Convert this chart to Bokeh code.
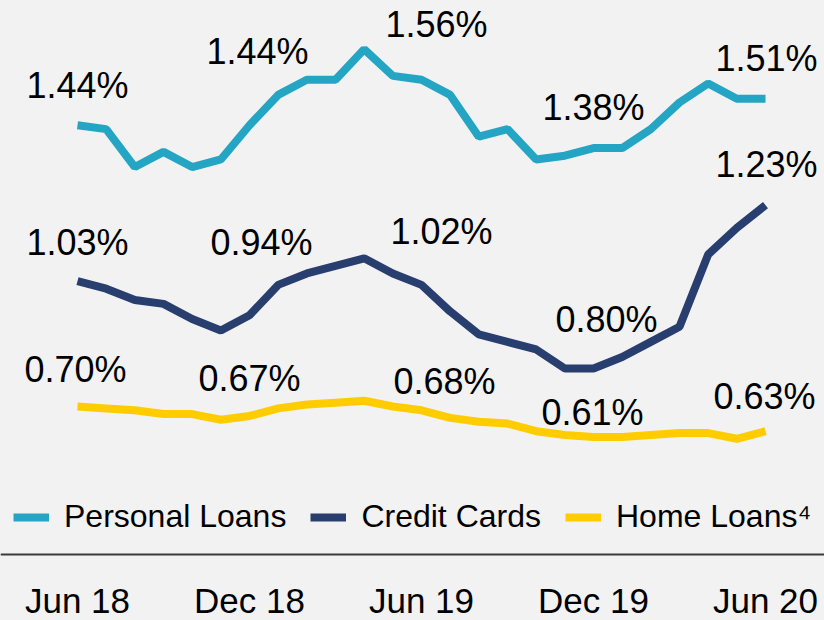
from bokeh.plotting import figure
from bokeh.models import Range1d, Legend, LegendItem, Span
from bokeh.core.properties import value
from bokeh.embed import file_html
from bokeh.resources import INLINE

# ---------------- data ----------------
months = ["Jun 18", "Jul 18", "Aug 18", "Sep 18", "Oct 18", "Nov 18", "Dec 18",
          "Jan 19", "Feb 19", "Mar 19", "Apr 19", "May 19", "Jun 19",
          "Jul 19", "Aug 19", "Sep 19", "Oct 19", "Nov 19", "Dec 19",
          "Jan 20", "Feb 20", "Mar 20", "Apr 20", "May 20", "Jun 20"]

personal_loans = [1.44, 1.43, 1.33, 1.37, 1.33, 1.35, 1.44, 1.52, 1.56, 1.56, 1.64, 1.57, 1.56,
                  1.52, 1.41, 1.43, 1.35, 1.36, 1.38, 1.38, 1.43, 1.50, 1.55, 1.51, 1.51]
credit_cards = [1.03, 1.01, 0.98, 0.97, 0.93, 0.90, 0.94, 1.02, 1.05, 1.07, 1.09, 1.05, 1.02,
                0.95, 0.89, 0.87, 0.85, 0.80, 0.80, 0.83, 0.87, 0.91, 1.10, 1.17, 1.23]
home_loans = [0.70, 0.695, 0.69, 0.68, 0.68, 0.665, 0.675, 0.695, 0.705, 0.71, 0.715, 0.70, 0.69,
              0.67, 0.66, 0.655, 0.635, 0.625, 0.62, 0.62, 0.625, 0.63, 0.63, 0.615, 0.635]

tick_months = ["Jun 18", "Dec 18", "Jun 19", "Dec 19", "Jun 20"]
personal_labels = ["1.44%", "1.44%", "1.56%", "1.38%", "1.51%"]
credit_labels = ["1.03%", "0.94%", "1.02%", "0.80%", "1.23%"]
home_labels = ["0.70%", "0.67%", "0.68%", "0.61%", "0.63%"]

series_names = ["Personal Loans", "Credit Cards", "Home Loans\u2074"]

# ---------------- style / layout ----------------
colors = ["#24a5c4", "#283e6e", "#ffcc00"]
FONT = "Liberation Sans"
BG = "#f2f2f2"
TEXT_SHIFT = -14  # compensation for svg baseline placement

# label offsets in screen px (dx, dy) relative to the labelled point
personal_dx = [0, 8, 15, 0, 1]
personal_dy = [-26, -60, -41, -27, -26]
credit_dx = [0, 12, 20, 13, 1]
credit_dy = [-25, -59, -39, -35, -27]
home_dx = [-2, 0, 23, -1, -1]
home_dy = [-23, -23, -15, -10, -21]

x = list(range(len(months)))
tick_idx = [months.index(m) for m in tick_months]

p = figure(width=824, height=620, output_backend="svg", toolbar_location=None,
           x_range=Range1d(-2.686, 26.058), y_range=Range1d(0.1368, 1.7684),
           min_border=0, x_axis_location=None, y_axis_location=None,
           background_fill_color=BG, border_fill_color=BG, outline_line_color=None)
p.grid.visible = False

renderers = []
for vals, c in zip([personal_loans, credit_cards, home_loans], colors):
    r = p.line(x, vals, line_color=c, line_width=8)
    renderers.append(r)

for vals, labs, dx, dy in [(personal_loans, personal_labels, personal_dx, personal_dy),
                           (credit_cards, credit_labels, credit_dx, credit_dy),
                           (home_loans, home_labels, home_dx, home_dy)]:
    p.text(x=tick_idx, y=[vals[i] for i in tick_idx], text=labs,
           x_offset=dx, y_offset=[d + TEXT_SHIFT for d in dy],
           text_font=value(FONT), text_font_size="36px", text_color="#000000",
           text_align="center", text_baseline="alphabetic")

# separator line
p.add_layout(Span(location=0.3105, dimension="width", line_color="#3a3a3a", line_width=2))

# x tick labels
p.text(x=tick_idx, y=[p.y_range.start] * len(tick_idx), text=tick_months,
       y_offset=-6 + TEXT_SHIFT,
       text_font=value(FONT), text_font_size="35px", text_color="#000000",
       text_align="center", text_baseline="alphabetic")

legend = Legend(items=[LegendItem(label=n, renderers=[r]) for n, r in zip(series_names, renderers)],
                orientation="horizontal", location=(13, 85),
                label_text_font=FONT, label_text_font_size="32px", label_text_color="#000000",
                glyph_width=36, glyph_height=20, label_standoff=15, spacing=24,
                padding=0, margin=0, border_line_color=None, background_fill_alpha=0)
p.add_layout(legend)

html = file_html(p, INLINE)
html = html.replace("<head>", "<head><style>html,body{background:#f2f2f2;}</style>", 1)
open("out.html", "w").write(html)
